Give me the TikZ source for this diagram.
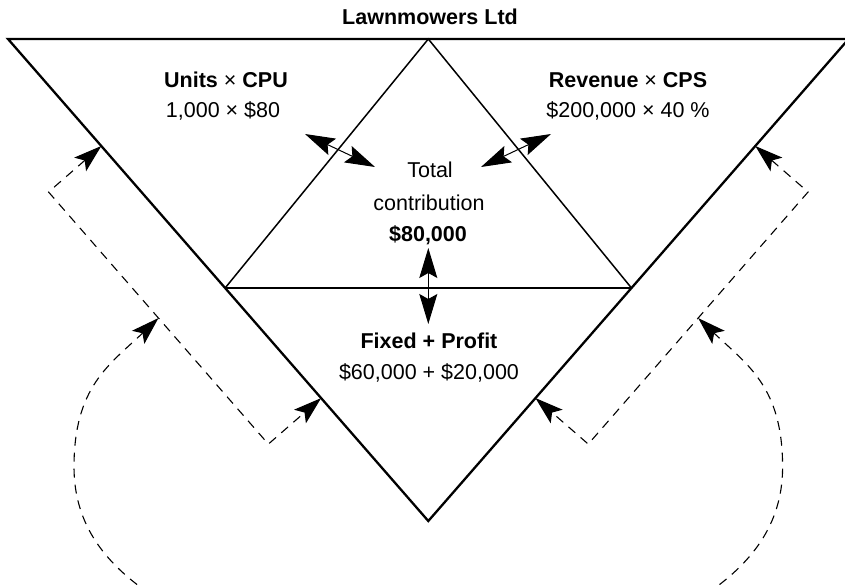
\documentclass[tikz,border=0pt]{standalone}
\usepackage{fontspec}
\setmainfont{Liberation Sans}
\usetikzlibrary{arrows.meta,calc}
\begin{document}
\begin{tikzpicture}[x=1pt,y=-1pt,
  every node/.style={font=\fontsize{21.5pt}{26pt}\selectfont, inner sep=0pt, anchor=base},
  bt/.style={font=\fontsize{21.5pt}{26pt}\selectfont\bfseries},
  outer/.style={line width=2.3pt, line join=miter},
  inner/.style={line width=1.5pt},
  dbl/.style={line width=1pt, {Stealth[length=30pt,width=18pt,inset=5pt]}-{Stealth[length=30pt,width=18pt,inset=5pt]}},
  dsh/.style={line width=1.1pt, dash pattern=on 9pt off 7pt},
  dshdbl/.style={dsh, {Stealth[length=28pt,width=18pt,inset=6pt]}-{Stealth[length=28pt,width=18pt,inset=6pt]}},
  dshone/.style={dsh, -{Stealth[length=28pt,width=18pt,inset=6pt]}},
]
\useasboundingbox (0,0) rectangle (845,586);
% main triangle
\coordinate (TL) at (8,39);
\coordinate (TR) at (848.6,39);
\coordinate (B) at (428.3,521);
\coordinate (A) at (428.3,39);
\coordinate (BL) at ($(TL)!0.5166!(B)$);
\coordinate (BR) at ($(TR)!0.5166!(B)$);
\draw[outer] (TL) -- (TR) -- (B) -- cycle;
\draw[inner] (BL) -- (A) -- (BR);
\draw[inner] (BL) -- (BR);

% texts
\node[bt] (title) at (430,25) {Lawnmowers Ltd};
\node (units) at (226,87) {\bfseries Units\mdseries{} × \bfseries CPU};
\node (unitsv) at (223,117) {1,000 × \$80};
\node (rev) at (628,87) {\bfseries Revenue\mdseries{} × \bfseries CPS};
\node (revv) at (628,117) {\$200,000 × 40 \%};
\node (tot1) at (430,177) {Total};
\node (tot2) at (429,210) {contribution};
\node[bt] (tot3) at (428,241) {\$80,000};
\node[bt] (fix) at (429,348) {Fixed + Profit};
\node (fixv) at (429,379) {\$60,000 + \$20,000};

% inner double arrows
\coordinate (v1) at (428.3,248);
\coordinate (v2) at (428.3,324);
\draw[dbl] (v1) -- (v2);
\coordinate (l1) at (305,134);
\coordinate (l2) at (375,167);
\draw[dbl] (l1) -- (l2);
\coordinate (r1) at (551,134);
\coordinate (r2) at (481,167);
\draw[dbl] (r1) -- (r2);

% left dashed bracket
\coordinate (T1) at ($(TL)!0.222!(B)$);
\coordinate (T2) at ($(TL)!0.745!(B)$);
\coordinate (K1) at ($(T1)!70pt!-90:(B)$);
\coordinate (K2) at ($(T2)!70pt!-90:(B)$);
\coordinate (M1) at ($(K1)!0.5!(K2)$);
\draw[dshdbl] (T1) -- (K1) -- (K2) -- (T2);

% right dashed bracket
\coordinate (T3) at ($(TR)!0.222!(B)$);
\coordinate (T4) at ($(TR)!0.745!(B)$);
\coordinate (K3) at ($(T3)!70pt!90:(B)$);
\coordinate (K4) at ($(T4)!70pt!90:(B)$);
\coordinate (M2) at ($(K3)!0.5!(K4)$);
\draw[dshdbl] (T3) -- (K3) -- (K4) -- (T4);

% curved dashed arrows
\coordinate (LS) at (150,594);
\coordinate (LM) at (74,467);
\draw[dshone] (LS) .. controls (108,565) and (74,527) .. (LM) .. controls (74,387) and (109,365) .. (M1);
\coordinate (RS) at (706.6,594);
\coordinate (RM) at (782.6,467);
\draw[dshone] (RS) .. controls (748.6,565) and (782.6,527) .. (RM) .. controls (782.6,387) and (747.6,365) .. (M2);
\end{tikzpicture}
\end{document}
